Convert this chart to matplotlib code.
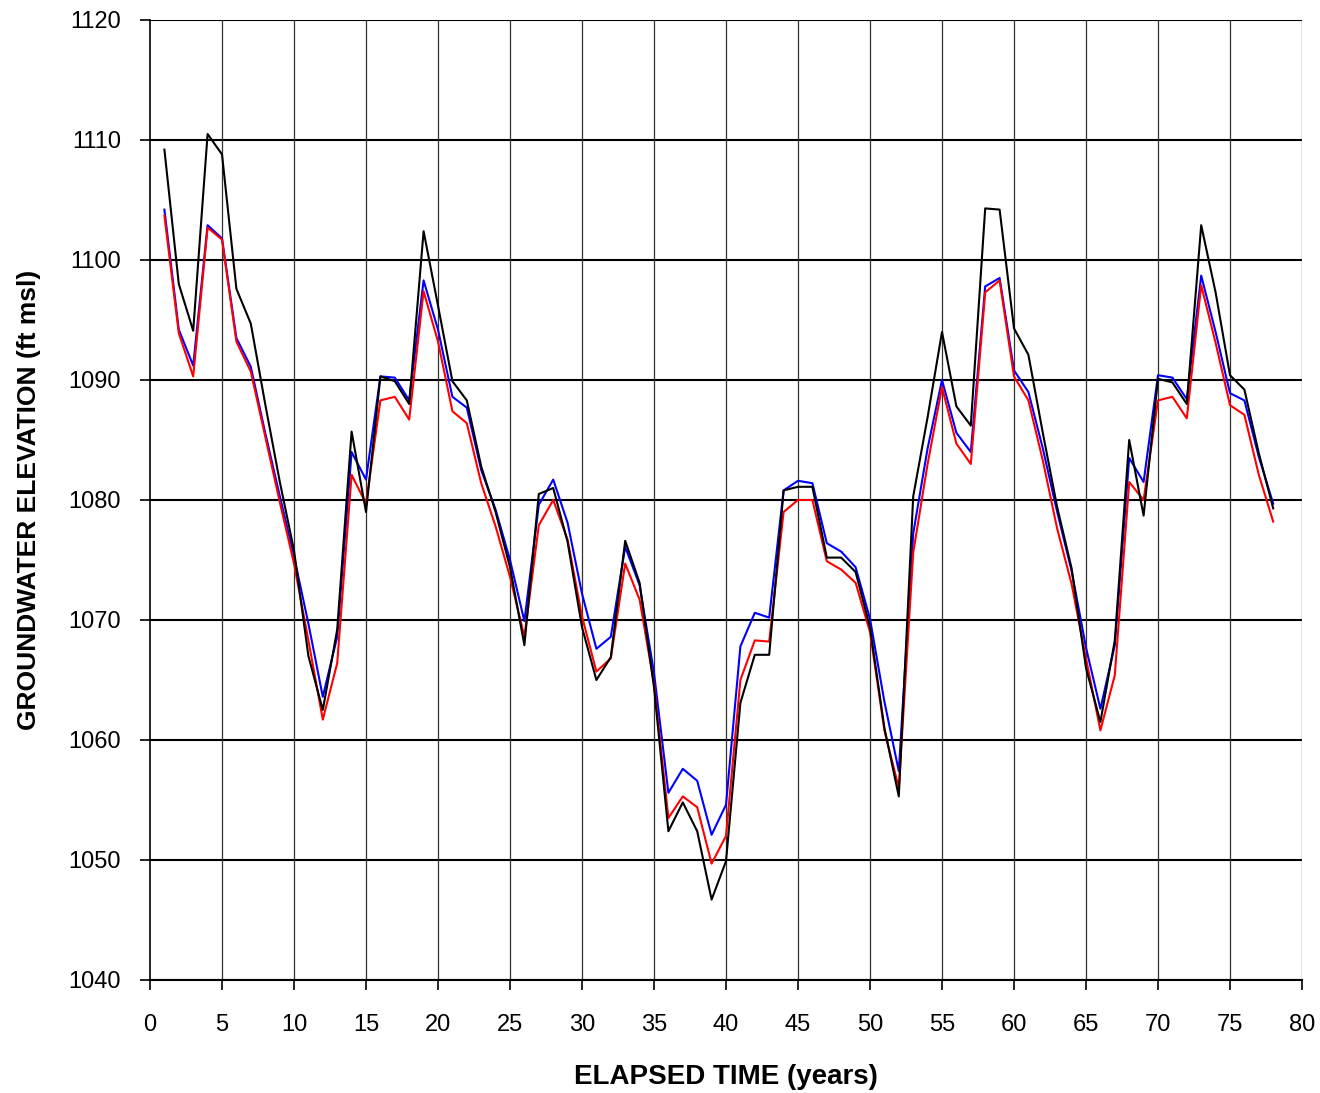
import matplotlib
matplotlib.use("Agg")
import matplotlib.pyplot as plt
import numpy as np

years = list(range(1, 79))

black_series = [1109.2, 1098.0, 1094.1, 1110.5, 1108.8, 1097.6, 1094.7, 1088.0, 1081.6, 1075.8,
                1067.0, 1062.5, 1069.2, 1085.7, 1079.0, 1090.3, 1089.9, 1088.0, 1102.4, 1096.2,
                1089.9, 1088.3, 1082.8, 1079.0, 1074.4, 1067.9, 1080.5, 1081.0, 1076.5, 1069.4,
                1065.0, 1066.9, 1076.6, 1073.1, 1064.4, 1052.4, 1054.8, 1052.4, 1046.7, 1049.9,
                1063.1, 1067.1, 1067.1, 1080.8, 1081.1, 1081.1, 1075.2, 1075.2, 1074.0, 1069.4,
                1061.0, 1055.3, 1080.3, 1086.9, 1094.0, 1087.8, 1086.2, 1104.3, 1104.2, 1094.3,
                1092.1, 1085.6, 1079.4, 1074.3, 1066.0, 1061.5, 1068.3, 1085.0, 1078.7, 1090.1,
                1089.8, 1088.0, 1102.9, 1097.3, 1090.4, 1089.2, 1083.9, 1079.3]

blue_series = [1104.2, 1094.2, 1091.2, 1102.9, 1101.8, 1093.5, 1091.1, 1085.6, 1080.4, 1075.3,
               1069.7, 1063.6, 1068.6, 1084.0, 1081.7, 1090.3, 1090.2, 1088.3, 1098.3, 1094.2,
               1088.6, 1087.7, 1082.5, 1079.2, 1075.0, 1069.9, 1079.6, 1081.7, 1078.1, 1072.2,
               1067.6, 1068.6, 1076.1, 1072.9, 1065.6, 1055.6, 1057.6, 1056.6, 1052.1, 1054.6,
               1067.8, 1070.6, 1070.2, 1080.8, 1081.6, 1081.4, 1076.4, 1075.7, 1074.4, 1070.1,
               1063.2, 1057.4, 1077.2, 1084.3, 1090.0, 1085.6, 1084.0, 1097.8, 1098.5, 1090.8,
               1089.0, 1084.3, 1079.0, 1074.1, 1067.7, 1062.6, 1067.9, 1083.5, 1081.5, 1090.4,
               1090.2, 1088.4, 1098.7, 1094.0, 1088.9, 1088.3, 1083.6, 1079.7]

red_series = [1103.7, 1093.9, 1090.3, 1102.7, 1101.7, 1093.2, 1090.7, 1085.3, 1079.9, 1074.7,
              1068.3, 1061.7, 1066.4, 1082.1, 1079.7, 1088.3, 1088.6, 1086.7, 1097.4, 1093.2,
              1087.4, 1086.4, 1081.4, 1077.8, 1073.6, 1068.6, 1077.9, 1080.0, 1076.7, 1070.3,
              1065.7, 1066.8, 1074.7, 1071.7, 1064.7, 1053.5, 1055.3, 1054.4, 1049.7, 1052.0,
              1065.0, 1068.3, 1068.2, 1079.0, 1080.0, 1080.0, 1074.9, 1074.2, 1073.1, 1069.0,
              1060.8, 1056.0, 1075.6, 1083.0, 1089.4, 1084.7, 1083.0, 1097.3, 1098.3, 1090.3,
              1088.3, 1083.3, 1077.6, 1073.0, 1066.8, 1060.8, 1065.4, 1081.5, 1080.0, 1088.3,
              1088.6, 1086.8, 1097.9, 1093.1, 1087.9, 1087.1, 1082.1, 1078.2]

x_ticks = list(range(0, 81, 5))
y_ticks = list(range(1040, 1121, 10))

plt.rcParams['font.family'] = ['Liberation Sans', 'DejaVu Sans']

fig = plt.figure(figsize=(13.2, 10.93), dpi=100)
ax = fig.add_axes([150/1320, 1 - 980/1093, (1302-150)/1320, (980-20)/1093])

ax.set_xlim(0, 80)
ax.set_ylim(1040, 1120)
ax.set_xticks(x_ticks)
ax.set_yticks(y_ticks)

# gridlines
for yv in y_ticks:
    ax.axhline(yv, color='black', lw=1.5, zorder=1)
for xv in x_ticks[1:]:
    ax.axvline(xv, color='#333333', lw=0.9, zorder=1)

ax.plot(years, blue_series, color='#0000ff', lw=1.5, zorder=3)
ax.plot(years, red_series, color='#ff0000', lw=1.5, zorder=4)
ax.plot(years, black_series, color='black', lw=1.5, zorder=5)

for side in ['top', 'right']:
    ax.spines[side].set_visible(False)
ax.spines['left'].set_linewidth(1.2)
ax.spines['bottom'].set_linewidth(1.5)

ax.tick_params(axis='both', direction='out', length=7.2, width=1.2, labelsize=17)
ax.tick_params(axis='x', pad=17)
ax.tick_params(axis='y', pad=13.5)

ax.set_xlabel('ELAPSED TIME (years)', fontsize=20, fontweight='bold', labelpad=20.5)
ax.set_ylabel('GROUNDWATER ELEVATION (ft msl)', fontsize=19, fontweight='bold', labelpad=20)

fig.savefig('out.png', dpi=100)
